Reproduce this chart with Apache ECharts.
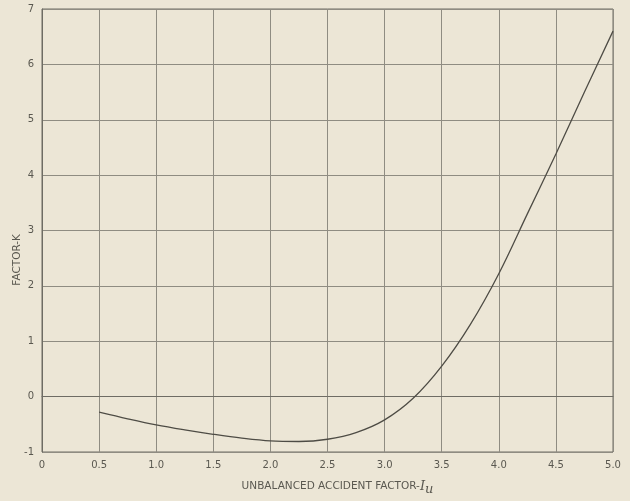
<!DOCTYPE html>
<html>
<head>
<meta charset="utf-8">
<script src="https://cdn.jsdelivr.net/npm/echarts@6/dist/echarts.min.js"></script>
<style>
html,body{margin:0;padding:0;background:#ece6d6;}
#c{width:630px;height:501px;}
</style>
</head>
<body>
<div id="c"></div>
<script>
var xValues = [0.5, 0.75, 1.0, 1.25, 1.5, 1.75, 2.0, 2.25, 2.5, 2.75, 3.0, 3.25, 3.5, 3.75, 4.0, 4.25, 4.5, 4.75, 5.0];
var kValues = [-0.28, -0.40, -0.51, -0.60, -0.68, -0.75, -0.80, -0.81, -0.77, -0.65, -0.42, -0.03, 0.55, 1.30, 2.22, 3.30, 4.38, 5.50, 6.60];
var xTickLabels = {"0":"0","0.5":"0.5","1":"1.0","1.5":"1.5","2":"2.0","2.5":"2.5","3":"3.0","3.5":"3.5","4":"4.0","4.5":"4.5","5":"5.0"};
var xAxisTitle = "UNBALANCED ACCIDENT FACTOR-";
var yAxisTitle = "FACTOR-K";

var chart = echarts.init(document.getElementById('c'));
var pts = xValues.map(function(x, i){ return [x, kValues[i]]; });
var gridColor = '#8f8c82';
var labelColor = '#5a5850';
chart.setOption({
  backgroundColor: '#ece6d6',
  animation: false,
  grid: {left: 42, right: 17, top: 9, bottom: 38, show: true, borderColor: '#6e6c64', borderWidth: 1},
  xAxis: {
    type: 'value', min: 0, max: 5, interval: 0.5,
    axisLine: {show: true, lineStyle: {color: '#6e6c64', width: 1}},
    axisTick: {show: false},
    splitLine: {show: true, lineStyle: {color: gridColor, width: 1}},
    axisLabel: {color: labelColor, fontFamily: 'DejaVu Sans', fontSize: 10, margin: 8,
      formatter: function(v){ var k = String(v); return xTickLabels[k] !== undefined ? xTickLabels[k] : k; }},
    name: xAxisTitle + '{i|I}{s|u}',
    nameLocation: 'middle', nameGap: 25,
    nameTextStyle: {color: labelColor, fontFamily: 'DejaVu Sans', fontSize: 10.5, padding: [0,0,0,20],
      rich: {
        i: {fontFamily: 'DejaVu Serif', fontStyle: 'italic', fontSize: 13, color: labelColor},
        s: {fontFamily: 'DejaVu Serif', fontStyle: 'italic', fontSize: 13, color: labelColor, padding: [6,0,0,0]}
      }}
  },
  yAxis: {
    type: 'value', min: -1, max: 7, interval: 1,
    axisLine: {show: true, lineStyle: {color: '#6e6c64', width: 1}},
    axisTick: {show: false},
    splitLine: {show: true, lineStyle: {color: gridColor, width: 1}},
    axisLabel: {color: labelColor, fontFamily: 'DejaVu Sans', fontSize: 10, margin: 8}
  },
  graphic: [{
    type: 'text', left: 12, top: 234, rotation: Math.PI/2,
    style: {text: yAxisTitle, fill: labelColor, font: '10.5px "DejaVu Sans"'}
  }],
  series: [{
    type: 'line', data: pts, smooth: 0.35, showSymbol: false,
    lineStyle: {color: '#4e4c45', width: 1.3}
  }]
});
</script>
</body>
</html>
